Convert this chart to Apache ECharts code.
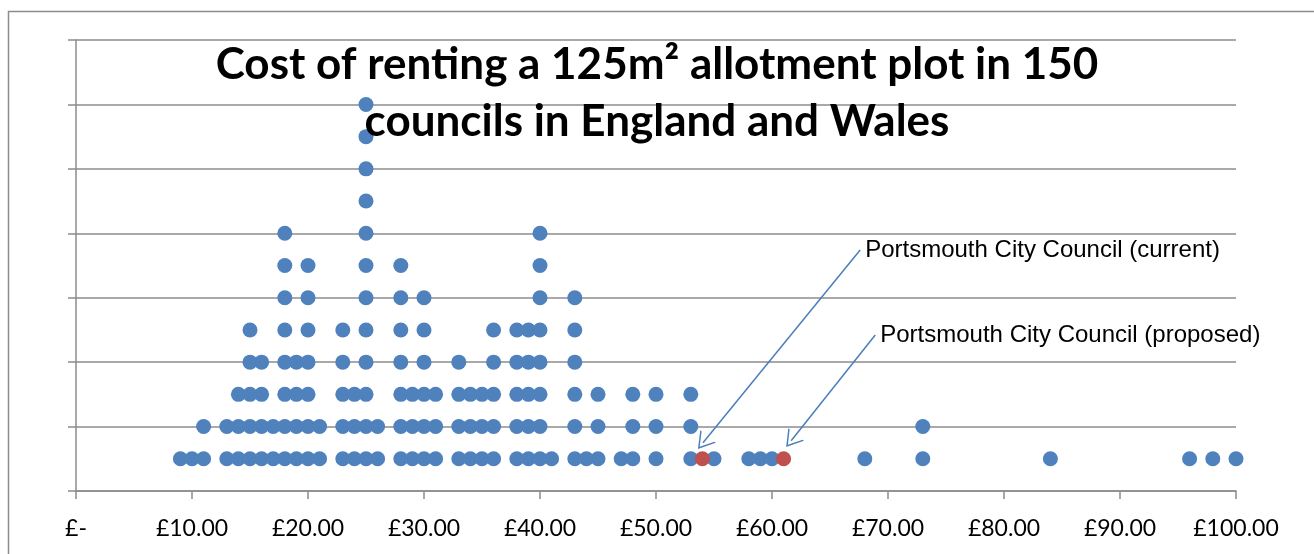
<!DOCTYPE html>
<html>
  <head>
    <meta charset="utf-8" />
    <title>Allotment plot rents</title>
    <script src="https://cdn.jsdelivr.net/npm/echarts@6.0.0/dist/echarts.min.js"></script>
    <style>
      html, body { margin: 0; padding: 0; background: #fff; }
    </style>
  </head>
  <body>
    <div id="main" style="width: 1314px; height: 554px"></div>

    <script type="text/javascript">
      // annual rent (£) and how many councils charge it
      const costs = [9, 10, 11, 13, 14, 15, 16, 17, 18, 19, 20, 21, 23, 24, 25, 26, 28, 29, 30, 31,
        33, 34, 35, 36, 38, 39, 40, 41, 43, 44, 45, 47, 48, 50, 53, 55, 58, 59, 60, 68, 73, 84, 96, 98, 100]
      const counts = [1, 1, 2, 2, 3, 5, 4, 2, 8, 4, 7, 2, 5, 3, 12, 2, 7, 3, 6, 3,
        4, 3, 3, 5, 5, 5, 8, 1, 6, 1, 3, 1, 3, 3, 3, 1, 1, 1, 1, 1, 2, 1, 1, 1, 1]

      // Portsmouth City Council
      const portsmouthNames = ['Portsmouth City Council (current)', 'Portsmouth City Council (proposed)']
      const portsmouthCosts = [54, 61]

      const xTickLabels = ['£-', '£10.00', '£20.00', '£30.00', '£40.00', '£50.00',
        '£60.00', '£70.00', '£80.00', '£90.00', '£100.00']

      // height of one dot in the stack (y units)
      const dotStep = 0.5

      // callout arrows: label anchor -> arrow tip (data units)
      const calloutFrom = [[67.6, 3.74], [68.9, 2.42]]
      const calloutTo = [[54.05, 0.75], [61.65, 0.78]]

      // stack the dots per cost
      const blueDots = []
      costs.forEach((c, i) => {
        for (let k = 1; k <= counts[i]; k++) blueDots.push([c, k * dotStep])
      })
      const redDots = portsmouthCosts.map((c) => [c, dotStep])

      const arrowHead = 'path://M10,0 L20,16 L18.3,16 L10,2.8 L1.7,16 L0,16 Z'

      var myChart = echarts.init(document.getElementById('main'))

      option = {
        animation: false,
        backgroundColor: '#fff',
        title: {
          text: 'Cost of renting a 125m² allotment plot in 150\ncouncils in England and Wales',
          left: 'center',
          top: 36,
          padding: 0,
          textStyle: {
            fontFamily: 'Lato, "Open Sans", sans-serif',
            fontWeight: 'bold',
            fontSize: 44,
            lineHeight: 57,
            color: '#000',
          },
        },
        graphic: [
          {
            type: 'rect',
            left: 6,
            top: 9,
            shape: { width: 1307, height: 560 },
            style: { fill: 'none', stroke: '#8c8c8c', lineWidth: 1.5 },
            silent: true,
            z: -1,
          },
        ],
        grid: {
          left: 76,
          right: 78,
          top: 40,
          bottom: 63,
        },
        xAxis: {
          type: 'value',
          min: 0,
          max: 100,
          interval: 10,
          splitLine: { show: false },
          axisLine: { show: true, lineStyle: { color: '#8c8c8c', width: 1.5 } },
          axisTick: { show: true, length: 8, lineStyle: { color: '#8c8c8c', width: 1.5 } },
          axisLabel: {
            margin: 26,
            fontFamily: 'Lato, "Open Sans", sans-serif',
            fontSize: 23,
            color: '#000',
            formatter: (v) => xTickLabels[Math.round(v / 10)],
          },
        },
        yAxis: {
          type: 'value',
          min: 0,
          max: 7,
          interval: 1,
          axisLine: { show: true, lineStyle: { color: '#8c8c8c', width: 1.5 } },
          axisTick: { show: true, inside: false, length: 8, lineStyle: { color: '#8c8c8c', width: 1.5 } },
          axisLabel: { show: false },
          splitLine: { show: true, lineStyle: { color: '#8c8c8c', width: 1.5 } },
        },
        series: [
          {
            type: 'scatter',
            data: blueDots,
            symbolSize: 15,
            itemStyle: { color: '#4f81bd', opacity: 1 },
            markLine: {
              silent: true,
              symbol: ['none', arrowHead],
              symbolSize: [20, 16],
              label: { show: false },
              lineStyle: { color: '#4a7ebb', width: 1.5, type: 'solid' },
              data: calloutFrom.map((p, i) => [{ coord: p }, { coord: calloutTo[i] }]),
            },
            markPoint: {
              silent: true,
              symbol: 'circle',
              symbolSize: 0,
              label: {
                show: true,
                position: 'right',
                distance: 5,
                fontFamily: '"Liberation Sans", Arial, sans-serif',
                fontSize: 24,
                color: '#000',
                formatter: (p) => p.name,
              },
              data: calloutFrom.map((p, i) => ({ name: portsmouthNames[i], coord: p })),
            },
          },
          {
            type: 'scatter',
            data: redDots,
            symbolSize: 15,
            z: 3,
            itemStyle: { color: '#c0504d', opacity: 1 },
          },
        ],
      }

      myChart.setOption(option)
    </script>
  </body>
</html>
